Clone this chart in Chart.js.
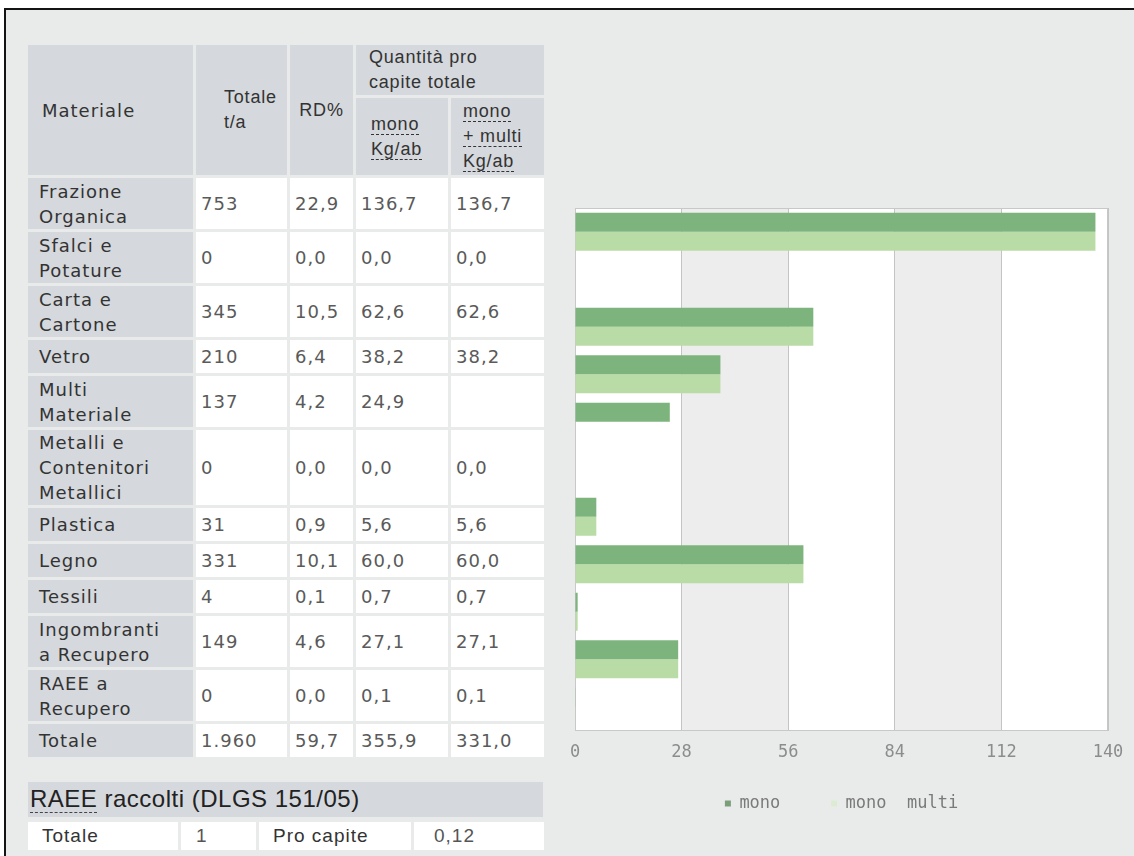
<!DOCTYPE html>
<html>
<head>
<meta charset="utf-8">
<script src="https://cdn.jsdelivr.net/npm/chart.js@4.4.1/dist/chart.umd.min.js"></script>
<style>
html,body{margin:0;padding:0;background:#ffffff;}
body{width:1134px;height:856px;position:relative;overflow:hidden;}
#frame{position:absolute;left:4px;top:8px;width:1140px;height:860px;border-top:2px solid #141414;border-left:2px solid #141414;background:#e9ebea;}
table{border-collapse:separate;border-spacing:3px;table-layout:fixed;position:absolute;}
td{box-sizing:border-box;padding:0;vertical-align:middle;overflow:hidden;white-space:nowrap;}
#main{left:25px;top:42px;width:522px;}
.hd{background:#d5d8dc;font-family:"Liberation Sans",Arial,sans-serif;font-size:18px;color:#333;line-height:25px;letter-spacing:0.8px;}
.lab{background:#d5d8dc;font-family:"DejaVu Sans",sans-serif;font-size:18px;letter-spacing:1px;color:#333;line-height:25px;padding-left:11px;}
.num{background:#ffffff;font-family:"DejaVu Sans",sans-serif;font-size:18px;letter-spacing:1px;color:#5a5a5a;line-height:25px;padding-left:5px;}
.ab{border-bottom:1px dashed #333;}
#raeeHead{position:absolute;left:28px;top:782px;width:515px;height:35px;background:#d5d8dc;font-family:"Liberation Sans",Arial,sans-serif;font-size:24px;letter-spacing:0.5px;color:#222;line-height:34px;padding-left:2px;box-sizing:border-box;}
#raeeHead .ab{border-bottom:1px dashed #444;}
#raee{left:25px;top:819px;}
#raee td{background:#fff;height:28px;font-family:"Liberation Sans",Arial,sans-serif;font-size:19px;letter-spacing:1px;line-height:28px;}
#chartBox{position:absolute;left:556px;top:196px;width:580px;height:626px;}
</style>
</head>
<body>
<div id="frame"></div>
<table id="main">
  <colgroup><col style="width:165px"><col style="width:91px"><col style="width:63px"><col style="width:92px"><col style="width:93px"></colgroup>
  <thead>
    <tr style="height:50px">
      <td rowspan="2" class="lab" style="padding-left:14px">Materiale</td>
      <td rowspan="2" class="hd" style="padding-left:28px">Totale<br>t/a</td>
      <td rowspan="2" class="hd" style="text-align:center">RD%</td>
      <td colspan="2" class="hd" style="vertical-align:top;padding-left:13px">Quantità pro<br>capite totale</td>
    </tr>
    <tr style="height:77px">
      <td class="hd" style="padding-left:15px"><span class="ab">mono</span><br><span class="ab">Kg/ab</span></td>
      <td class="hd" style="padding-left:12px"><span class="ab">mono</span><br><span class="ab">+ multi</span><br><span class="ab">Kg/ab</span></td>
    </tr>
  </thead>
  <tbody id="tbody"></tbody>
</table>
<div id="raeeHead"><span class="ab">RAEE</span> raccolti (DLGS 151/05)</div>
<table id="raee">
  <colgroup><col style="width:150px"><col style="width:75px"><col style="width:152px"><col style="width:130px"></colgroup>
  <tr>
    <td style="padding-left:14px;color:#333">Totale</td>
    <td id="raeeTot" style="padding-left:15px;color:#555"></td>
    <td style="padding-left:14px;color:#333">Pro capite</td>
    <td id="raeePc" style="padding-left:20px;color:#555"></td>
  </tr>
</table>
<div id="chartBox"><canvas id="c"></canvas></div>
<script>
const categories = ["Frazione\nOrganica","Sfalci e\nPotature","Carta e\nCartone","Vetro","Multi\nMateriale","Metalli e\nContenitori\nMetallici","Plastica","Legno","Tessili","Ingombranti\na Recupero","RAEE a\nRecupero"];
const totaleTa = [753,0,345,210,137,0,31,331,4,149,0];
const rdPerc = [22.9,0.0,10.5,6.4,4.2,0.0,0.9,10.1,0.1,4.6,0.0];
const monoKgAb = [136.7,0.0,62.6,38.2,24.9,0.0,5.6,60.0,0.7,27.1,0.1];
const monoMultiKgAb = [136.7,0.0,62.6,38.2,null,0.0,5.6,60.0,0.7,27.1,0.1];
const seriesLabels = ["mono","mono  multi"];
const xTicks = [0,28,56,84,112,140];
const raeeTotale = 1;
const raeeProCapite = 0.12;

function fmt1(v){ return v===null ? "" : v.toFixed(1).replace(".", ","); }
function fmtInt(v){ return String(v).replace(/\B(?=(\d{3})+(?!\d))/g, "."); }
const sum = a => a.reduce((s,v)=>s+(v||0),0);

const tb = document.getElementById("tbody");
const rowH = {1:33, 2:51, 3:75};
categories.forEach((c,i)=>{
  const lines = c.split("\n");
  const tr = document.createElement("tr");
  tr.style.height = rowH[lines.length] + "px";
  tr.innerHTML = '<td class="lab">'+lines.join("<br>")+'</td>'+
    '<td class="num">'+fmtInt(totaleTa[i])+'</td>'+
    '<td class="num">'+fmt1(rdPerc[i])+'</td>'+
    '<td class="num">'+fmt1(monoKgAb[i])+'</td>'+
    '<td class="num">'+fmt1(monoMultiKgAb[i])+'</td>';
  tb.appendChild(tr);
});
const trT = document.createElement("tr");
trT.style.height = "33px";
trT.innerHTML = '<td class="lab">Totale</td><td class="num">'+fmtInt(sum(totaleTa))+'</td><td class="num">'+fmt1(Math.round(sum(rdPerc)*10)/10)+'</td><td class="num">'+fmt1(Math.round(sum(monoKgAb)*10)/10)+'</td><td class="num">'+fmt1(Math.round(sum(monoMultiKgAb)*10)/10)+'</td>';
tb.appendChild(trT);
document.getElementById("raeeTot").textContent = raeeTotale;
document.getElementById("raeePc").textContent = raeeProCapite.toFixed(2).replace(".", ",");

const bands = {
  id: "bands",
  beforeDraw(chart){
    const {ctx, chartArea:a, scales:{x}} = chart;
    ctx.save();
    for(let i=0;i<xTicks.length-1;i++){
      const x0 = x.getPixelForValue(xTicks[i]), x1 = x.getPixelForValue(xTicks[i+1]);
      ctx.fillStyle = i%2 ? "#ededed" : "#ffffff";
      ctx.fillRect(x0, a.top, x1-x0, a.bottom-a.top);
    }
    ctx.restore();
  },
  beforeDatasetsDraw(chart){
    const {ctx, chartArea:a} = chart;
    ctx.save();
    ctx.strokeStyle = "#c8c8c8";
    ctx.lineWidth = 1;
    ctx.strokeRect(Math.round(a.left)+0.5, Math.round(a.top)+0.5, Math.round(a.right-a.left)-1, Math.round(a.bottom-a.top)-1);
    ctx.restore();
  }
};

new Chart(document.getElementById("c"), {
  type: "bar",
  data: {
    labels: categories.map(c=>c.split("\n")),
    datasets: [
      {label: seriesLabels[0], data: monoKgAb, backgroundColor: "#7db47d"},
      {label: seriesLabels[1], data: monoMultiKgAb, backgroundColor: "#b9dca7"}
    ]
  },
  options: {
    indexAxis: "y",
    responsive: true,
    maintainAspectRatio: false,
    animation: false,
    layout: {padding: {left: 19, right: 28, top: 12, bottom: 0}},
    datasets: {bar: {categoryPercentage: 0.8, barPercentage: 1.0}},
    scales: {
      x: {
        min: 0, max: 140,
        ticks: {stepSize: 28, padding: 12, color: "#8c8c8c", font: {family: "DejaVu Sans Mono", size: 17}},
        grid: {color: "#c4c4c4", drawTicks: false},
        border: {display: true, color: "#c4c4c4"}
      },
      y: {display: false}
    },
    plugins: {
      tooltip: {enabled: false},
      legend: {
        position: "bottom",
        labels: {
          boxWidth: 6, boxHeight: 6, padding: 20,
          color: "#7a7a7a",
          font: {family: "DejaVu Sans Mono", size: 17},
          generateLabels(chart){
            const items = Chart.defaults.plugins.legend.labels.generateLabels(chart);
            items[0].text = items[0].text + "   ";
            items[0].fillStyle = "#7a9e7a"; items[0].strokeStyle = "#7a9e7a";
            items[1].fillStyle = "#dcecd2"; items[1].strokeStyle = "#dcecd2";
            items.forEach(it=>it.lineWidth = 0);
            return items;
          }
        }
      }
    }
  },
  plugins: [bands]
});
</script>
</body>
</html>
